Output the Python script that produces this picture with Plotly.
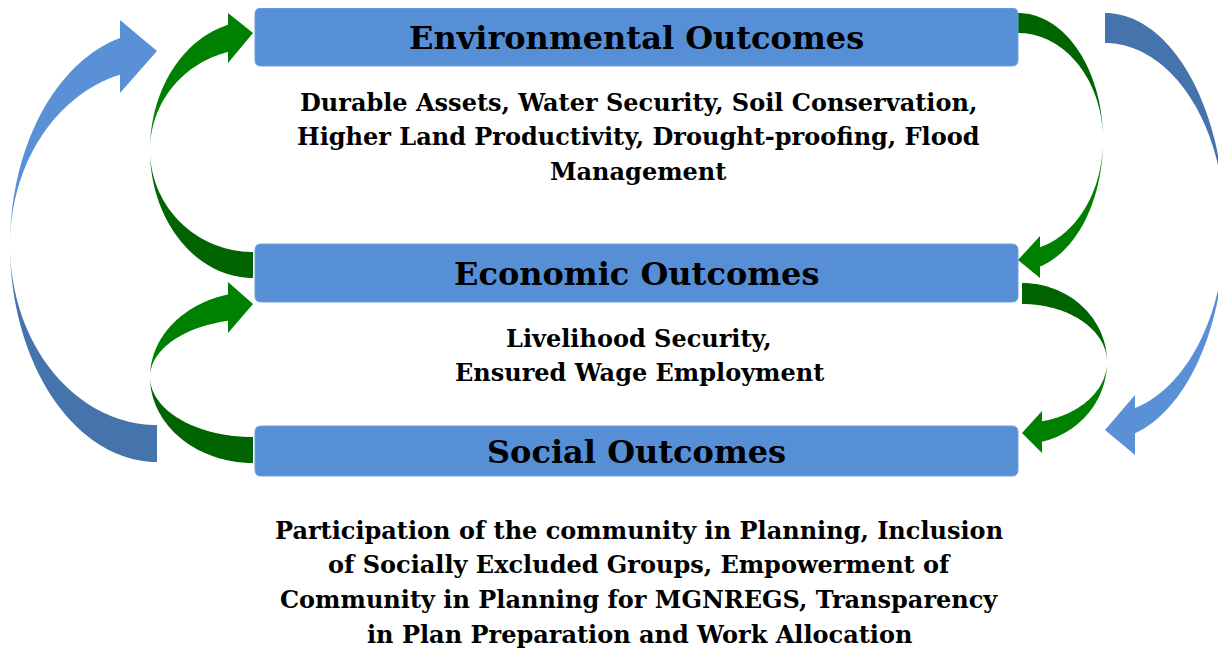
import numpy as np
import plotly.graph_objects as go

W, H = 1226, 652
PAGE_MARGIN = 8  # default body margin of the html page

# ---- content ----
titles = ["Environmental Outcomes", "Economic Outcomes", "Social Outcomes"]
env_lines = ["Durable Assets, Water Security, Soil Conservation,",
             "Higher Land Productivity, Drought-proofing, Flood",
             "Management"]
eco_lines = ["Livelihood Security,", "Ensured Wage Employment"]
soc_lines = ["Participation of the community in Planning, Inclusion",
             "of Socially Excluded Groups, Empowerment of",
             "Community in Planning for MGNREGS, Transparency",
             "in Plan Preparation and Work Allocation"]

# ---- layout geometry ----
BOX_X = (255, 1018)
BOX_Y = [(8, 66), (244, 302), (426, 476)]
BOX_COLOR = "#568FD6"
LIGHT_BLUE, DARK_BLUE = "#5990D6", "#4573AC"
GREEN, DARK_GREEN = "#008000", "#006400"
FONT = "DejaVu Serif"

fig = go.Figure()
shapes = []
annotations = []


def rrect(x0, x1, y0, y1, r=6):
    return (f"M{x0+r},{y0} L{x1-r},{y0} Q{x1},{y0} {x1},{y0+r} L{x1},{y1-r} "
            f"Q{x1},{y1} {x1-r},{y1} L{x0+r},{y1} Q{x0},{y1} {x0},{y1-r} "
            f"L{x0},{y0+r} Q{x0},{y0} {x0+r},{y0} Z")


def arc(cx, cy, rx, ry, side, vert, x_end, n=60):
    c = np.clip((x_end - cx) / (side * rx), -1, 1)
    t_end = np.arccos(c)
    t = np.linspace(0, t_end, n)
    xs = cx + side * rx * np.cos(t)
    ys = cy + vert * ry * np.sin(t)
    return list(zip(xs, ys))


def poly(pts):
    return "M" + " L".join(f"{x:.2f},{y:.2f}" for x, y in pts) + " Z"


def curved_arrow(cx, cy, rx, side, head_dir, tail_ry, head_ry, head_x, head_top,
                 head_bot, tip, head_color, tail_color):
    """side=-1 bulges left, +1 bulges right; head_dir=-1 head at top, +1 at bottom."""
    outer = arc(cx, cy, rx, head_ry[0], side, head_dir, head_x)
    inner = arc(cx, cy, rx, head_ry[1], side, head_dir, head_x)
    if head_dir < 0:
        hp = [(head_x, head_top), tip, (head_x, head_bot)]
    else:
        hp = [(head_x, head_bot), tip, (head_x, head_top)]
    head_pts = outer + hp + inner[::-1]
    t_outer = arc(cx, cy, rx, tail_ry[0], side, -head_dir, cx)
    t_inner = arc(cx, cy, rx, tail_ry[1], side, -head_dir, cx)
    tail_pts = t_outer + t_inner[::-1]
    for pts, col in ((tail_pts, tail_color), (head_pts, head_color)):
        shapes.append(dict(type="path", path=poly(pts), xref="x", yref="y",
                           fillcolor=col, line=dict(width=0), layer="below"))


# big blue arrows
curved_arrow(157, 245, 147, -1, -1, (217, 180), (214, 176), 120, 20, 93, (157, 51),
             LIGHT_BLUE, DARK_BLUE)
curved_arrow(1105, 227, 120, +1, +1, (214, 184), (213, 187), 1135, 395, 455, (1105, 430),
             LIGHT_BLUE, DARK_BLUE)
# green arrows left
curved_arrow(253, 150, 103, -1, -1, (128, 102), (129, 101), 228, 13, 63, (253, 33),
             GREEN, DARK_GREEN)
curved_arrow(253, 377, 103, -1, -1, (86, 60), (85, 58), 228, 282, 333, (253, 304),
             GREEN, DARK_GREEN)
# green arrows right
curved_arrow(1018, 140, 85, +1, +1, (127, 107), (131, 111), 1040, 236, 278, (1018, 260),
             GREEN, DARK_GREEN)
curved_arrow(1022, 362, 85, +1, +1, (79, 58), (82, 61), 1042, 411, 453, (1022, 433),
             GREEN, DARK_GREEN)

# boxes + titles
for (y0, y1), title in zip(BOX_Y, titles):
    shapes.append(dict(type="path", path=rrect(BOX_X[0], BOX_X[1], y0, y1),
                       xref="x", yref="y", fillcolor=BOX_COLOR,
                       line=dict(color="#6F9FDC", width=1)))
    annotations.append(dict(x=(BOX_X[0] + BOX_X[1]) / 2, y=(y0 + y1) / 2 + 1,
                            text=f"<b>{title}</b>", showarrow=False,
                            xref="x", yref="y",
                            font=dict(family=FONT, size=32, color="black")))

# descriptions
for lines, y_start, xc in ((env_lines, 102, 638), (eco_lines, 338, 639), (soc_lines, 530, 639)):
    for i, ln in enumerate(lines):
        annotations.append(dict(x=xc, y=y_start + i * 34.8, text=f"<b>{ln}</b>",
                                showarrow=False, xref="x", yref="y",
                                font=dict(family=FONT, size=24, color="black")))

fig.update_layout(
    width=W - PAGE_MARGIN, height=H - PAGE_MARGIN, margin=dict(l=0, r=0, t=0, b=0),
    paper_bgcolor="white", plot_bgcolor="white",
    xaxis=dict(range=[PAGE_MARGIN, W], visible=False, fixedrange=True),
    yaxis=dict(range=[H, PAGE_MARGIN], visible=False, fixedrange=True),
    shapes=shapes, annotations=annotations, showlegend=False,
)
fig.write_html("out.html", config={"displayModeBar": False})
